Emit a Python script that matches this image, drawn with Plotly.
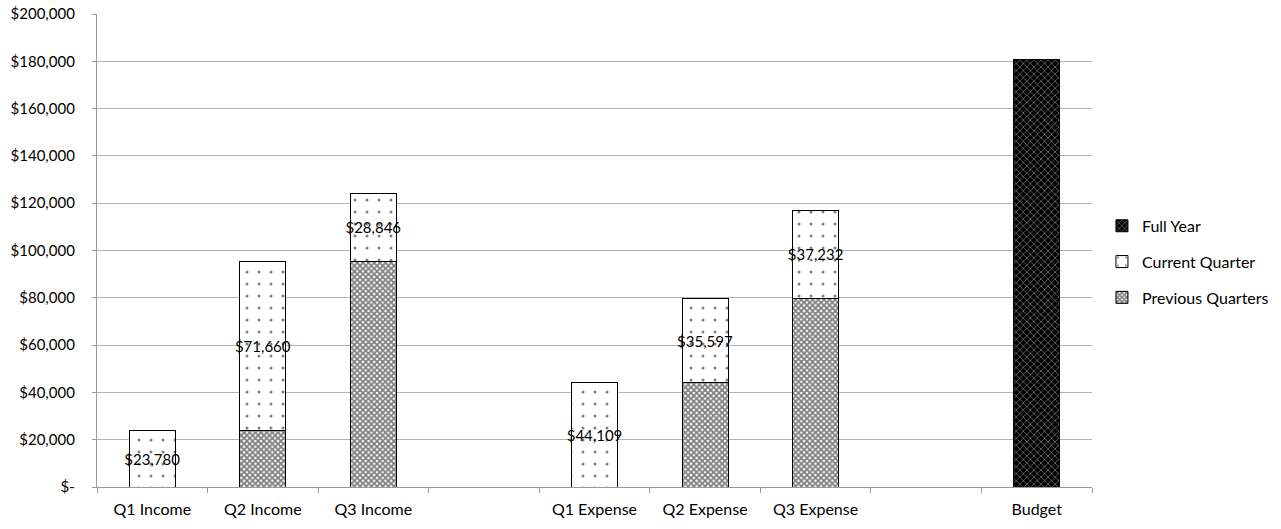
import plotly.graph_objects as go

categories = ["Q1 Income", "Q2 Income", "Q3 Income", " ",
              "Q1 Expense", "Q2 Expense", "Q3 Expense", "  ", "Budget"]
previous_quarters = [0, 23780, 95440, None, 0, 44109, 79706, None, None]
current_quarter = [23780, 71660, 28846, None, 44109, 35597, 37232, None, None]
full_year = [None, None, None, None, None, None, None, None, 180700]

ytick_vals = [0, 20000, 40000, 60000, 80000, 100000, 120000, 140000, 160000, 180000, 200000]
ytick_text = ["$-", "$20,000", "$40,000", "$60,000", "$80,000", "$100,000",
              "$120,000", "$140,000", "$160,000", "$180,000", "$200,000"]

FONT = "Lato"
outline = dict(color="black", width=1)

fig = go.Figure()
fig.add_trace(go.Bar(
    name="Previous Quarters", x=categories, y=previous_quarters,
    legendgroup="p", legendrank=3,
    marker=dict(color="white", line=outline,
                pattern=dict(shape="x", size=4, solidity=0.7,
                             fgcolor="black", bgcolor="white")),
    hoverinfo="skip",
))
fig.add_trace(go.Bar(
    name="Current Quarter", x=categories, y=current_quarter,
    legendgroup="c", legendrank=2,
    marker=dict(color="white", line=outline,
                pattern=dict(shape=".", size=12, solidity=0.05,
                             fgcolor="black", bgcolor="white")),
    text=[f"${v:,.0f}" if v else "" for v in current_quarter],
    textposition="inside", insidetextanchor="middle", textangle=0,
    constraintext="none",
    textfont=dict(family=FONT, size=15, color="black"),
    hoverinfo="skip",
))
fig.add_trace(go.Bar(
    name="Full Year", x=categories, y=full_year,
    legendgroup="f", legendrank=1,
    marker=dict(color="black", line=outline,
                pattern=dict(shape="x", size=5, solidity=0.25,
                             fgcolor="white", bgcolor="black")),
    hoverinfo="skip",
))

fig.update_layout(
    width=1281, height=529,
    barmode="stack", bargap=0.584,
    paper_bgcolor="white", plot_bgcolor="white",
    margin=dict(l=97, r=189, t=14, b=42, autoexpand=False),
    font=dict(family=FONT, size=15, color="black"),
    legend=dict(
        traceorder="grouped", tracegroupgap=12,
        x=1.010, xanchor="left", y=0.476, yanchor="middle",
        font=dict(family=FONT, size=16, color="black"),
        itemwidth=30,
    ),
    xaxis=dict(
        type="category", categoryorder="array", categoryarray=categories,
        showline=True, linecolor="#9a9a9a", linewidth=1.3,
        ticks="outside", tickson="boundaries", ticklen=5, tickcolor="#9a9a9a",
        ticklabelstandoff=8,
        showgrid=False, tickfont=dict(family=FONT, size=16),
        automargin=False,
    ),
    yaxis=dict(
        range=[0, 200000], tickvals=ytick_vals, ticktext=ytick_text,
        showline=True, linecolor="#9a9a9a", linewidth=1.3,
        ticks="outside", ticklen=4, tickcolor="#9a9a9a",
        ticklabelstandoff=14,
        showgrid=True, gridcolor="#b3b3b3", gridwidth=1.3,
        zeroline=False, tickfont=dict(family=FONT, size=15),
        automargin=False,
    ),
)

fig.write_html("out.html")
